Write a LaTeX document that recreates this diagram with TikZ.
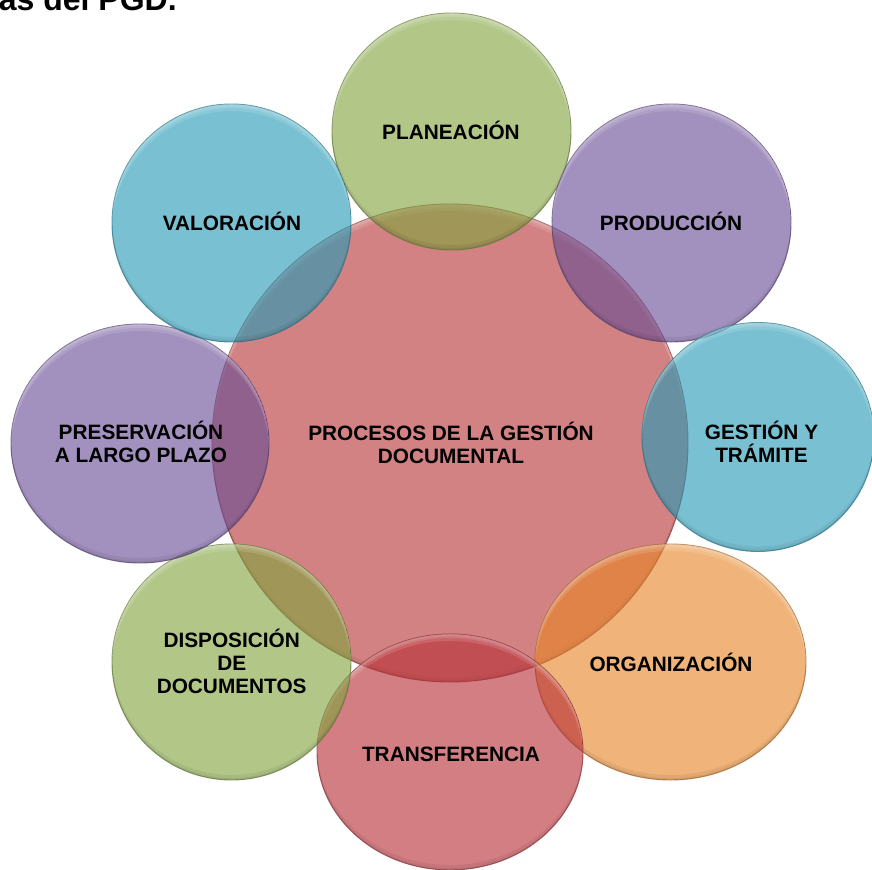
\documentclass[tikz,border=0pt]{standalone}
\usepackage{fontspec}
\setmainfont{Liberation Sans}
\usetikzlibrary{shapes.geometric}
\definecolor{cred}{RGB}{183,53,53}
\definecolor{tred}{RGB}{183,47,55}
\definecolor{cgreen}{RGB}{130,163,63}
\definecolor{cpurple}{RGB}{105,77,150}
\definecolor{cblue}{RGB}{38,155,183}
\definecolor{corange}{RGB}{230,133,38}
% soft bevel: light crescent at the top, faint dark crescent at the bottom
\newcommand\bubgloss[4]{%
  \begin{scope}
    \clip (#1,#2) ellipse [x radius=#3*0.75pt, y radius=#4*0.75pt];
    \foreach \d in {2,4,7}{%
      \fill[white, fill opacity=0.13, even odd rule]
        (#1,#2) ellipse [x radius=#3*0.75pt, y radius=#4*0.75pt]
        (#1,#2+\d) ellipse [x radius=#3*0.75pt, y radius=#4*0.75pt];
    }
    \foreach \d in {2,5}{%
      \fill[black, fill opacity=0.06, even odd rule]
        (#1,#2) ellipse [x radius=#3*0.75pt, y radius=#4*0.75pt]
        (#1,#2-\d) ellipse [x radius=#3*0.75pt, y radius=#4*0.75pt];
    }
  \end{scope}}
\begin{document}
\begin{tikzpicture}[x=0.75pt,y=-0.75pt,
  bub/.style 2 args={shape=ellipse, inner sep=0pt, minimum width=#1*1.5pt,
    minimum height=#2*1.5pt, fill opacity=0.62, draw opacity=0.7, line width=0.7pt},
  lbl/.style={font=\bfseries\fontsize{15.6}{17.3}\selectfont, align=center, inner sep=0pt},
  ttl/.style={font=\bfseries\fontsize{24}{28}\selectfont, inner sep=0pt}]
\useasboundingbox (0,0) rectangle (872,869);
% shapes
\node[bub={238}{239}, fill=cred, draw=cred!70!black] (proc) at (450,443) {};
\bubgloss{450}{443}{238}{239}
\node[bub={119.5}{118.5}, fill=cgreen, draw=cgreen!70!black] (plan) at (451.5,131.5) {};
\bubgloss{451.5}{131.5}{119.5}{118.5}
\node[bub={119.5}{119}, fill=cpurple, draw=cpurple!70!black] (prod) at (671.5,223) {};
\bubgloss{671.5}{223}{119.5}{119}
\node[bub={116}{114.5}, fill=cblue, draw=cblue!70!black] (gest) at (758,437) {};
\bubgloss{758}{437}{116}{114.5}
\node[bub={135.5}{118}, fill=corange, draw=corange!70!black] (org) at (670.5,662) {};
\bubgloss{670.5}{662}{135.5}{118}
\node[bub={133}{118}, fill=tred, draw=tred!70!black] (trans) at (450,752) {};
\bubgloss{450}{752}{133}{118}
\node[bub={119.5}{118}, fill=cgreen, draw=cgreen!70!black] (disp) at (231.5,662) {};
\bubgloss{231.5}{662}{119.5}{118}
\node[bub={129}{119.5}, fill=cpurple, draw=cpurple!70!black] (pres) at (140,443.5) {};
\bubgloss{140}{443.5}{129}{119.5}
\node[bub={119.5}{119}, fill=cblue, draw=cblue!70!black] (val) at (231.5,223) {};
\bubgloss{231.5}{223}{119.5}{119}
% labels
\node[lbl] (proc-t) at (451,442.5) {PROCESOS DE LA GESTIÓN\\DOCUMENTAL};
\node[lbl] (plan-t) at (451,130.5) {PLANEACIÓN};
\node[lbl] (prod-t) at (671,221) {PRODUCCIÓN};
\node[lbl] (gest-t) at (761.5,442) {GESTIÓN Y\\TRÁMITE};
\node[lbl] (org-t) at (671,662) {ORGANIZACIÓN};
\node[lbl] (trans-t) at (451,754.7) {TRANSFERENCIA};
\node[lbl] (disp-t) at (231.7,661) {DISPOSICIÓN\\DE\\DOCUMENTOS};
\node[lbl] (pres-t) at (141,442) {PRESERVACIÓN\\A LARGO PLAZO};
\node[lbl] (val-t) at (232,221) {VALORACIÓN};
% heading, cut off by the top edge as in the reference
\node[ttl, anchor=base east] (title) at (177,10) {as del PGD.};
\end{tikzpicture}
\end{document}
